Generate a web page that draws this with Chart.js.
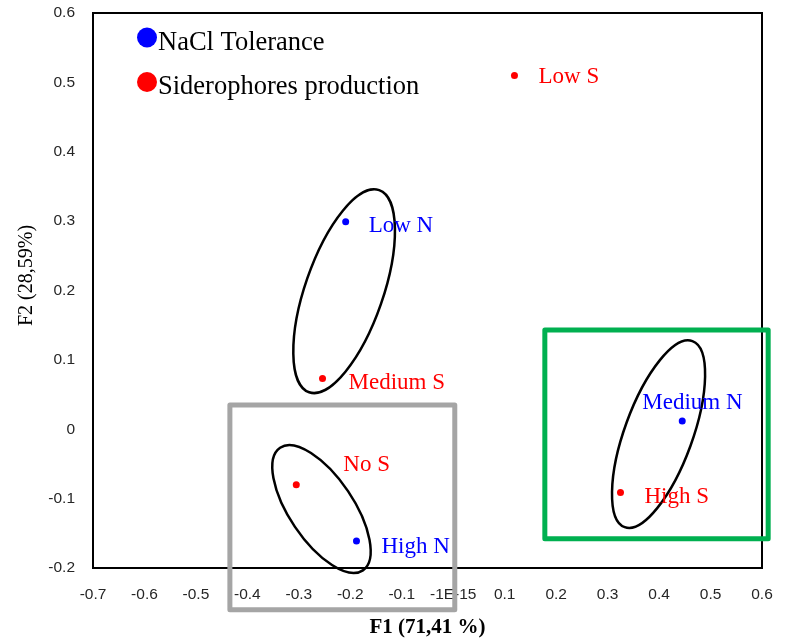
<!DOCTYPE html>
<html><head><meta charset="utf-8">
<script src="https://cdn.jsdelivr.net/npm/chart.js@4.4.1/dist/chart.umd.min.js"></script>
<style>html,body{margin:0;padding:0;background:#fff}</style>
</head><body>
<canvas id="c" width="788" height="639"></canvas>
<script>
// ---- data ----
const naclLabels = ['Low N', 'Medium N', 'High N'];
const naclF1 = [-0.209, 0.445, -0.188];
const naclF2 = [0.299, 0.012, -0.161];
const sideroLabels = ['Low S', 'Medium S', 'No S', 'High S'];
const sideroF1 = [0.119, -0.254, -0.305, 0.325];
const sideroF2 = [0.510, 0.073, -0.080, -0.091];
const xTickValues = [-0.7, -0.6, -0.5, -0.4, -0.3, -0.2, -0.1, 0, 0.1, 0.2, 0.3, 0.4, 0.5, 0.6];
const xTickLabels = ['-0.7', '-0.6', '-0.5', '-0.4', '-0.3', '-0.2', '-0.1', '-1E-15', '0.1', '0.2', '0.3', '0.4', '0.5', '0.6'];
const yTickValues = [-0.2, -0.1, 0, 0.1, 0.2, 0.3, 0.4, 0.5, 0.6];
const yTickLabels = ['-0.2', '-0.1', '0', '0.1', '0.2', '0.3', '0.4', '0.5', '0.6'];
const xTitle = 'F1 (71,41 %)';
const yTitle = 'F2 (28,59%)';

// ---- annotation styling (pixels / data anchors) ----
const labelOffsets = {
  'Low N': [23, 10], 'Medium N': [-40, -12], 'High N': [25, 12],
  'Low S': [24, 8], 'Medium S': [26, 10], 'No S': [47, -14], 'High S': [24, 11]
};
const groupEllipses = [
  { cx: -0.212, cy: 0.199, rx: 107, ry: 39, rot: -70.9 },
  { cx: -0.256, cy: -0.115, rx: 74, ry: 32, rot: 56 },
  { cx: 0.399, cy: -0.007, rx: 99, ry: 34, rot: -70 }
];
const groupBoxes = [
  { x0: -0.434, x1: 0.003, y0: 0.035, y1: -0.260, color: '#A5A5A5' },
  { x0: 0.178, x1: 0.612, y0: 0.143, y1: -0.158, color: '#00B050' }
];

const toPoints = (xs, ys) => xs.map((v, i) => ({ x: v, y: ys[i] }));

const overlay = {
  id: 'overlay',
  beforeDatasetsDraw(chart) {
    const { ctx, chartArea: a } = chart;
    ctx.save();
    ctx.strokeStyle = '#000';
    ctx.lineWidth = 2;
    ctx.strokeRect(a.left, a.top, a.right - a.left, a.bottom - a.top);
    ctx.restore();
  },
  afterDraw(chart) {
    const { ctx, chartArea: a, scales: { x, y } } = chart;
    ctx.save();
    // ellipses
    ctx.strokeStyle = '#000';
    ctx.lineWidth = 2.5;
    groupEllipses.forEach(e => {
      ctx.beginPath();
      ctx.ellipse(x.getPixelForValue(e.cx), y.getPixelForValue(e.cy), e.rx, e.ry, e.rot * Math.PI / 180, 0, Math.PI * 2);
      ctx.stroke();
    });
    // boxes
    ctx.lineWidth = 5;
    ctx.lineJoin = 'round';
    groupBoxes.forEach(b => {
      const px0 = x.getPixelForValue(b.x0), px1 = x.getPixelForValue(b.x1);
      const py0 = y.getPixelForValue(b.y0), py1 = y.getPixelForValue(b.y1);
      ctx.strokeStyle = b.color;
      ctx.strokeRect(px0, py0, px1 - px0, py1 - py0);
    });
    // point labels
    ctx.font = '23px "Liberation Serif", "Times New Roman", serif';
    ctx.textAlign = 'left';
    ctx.textBaseline = 'alphabetic';
    chart.data.datasets.forEach((ds, i) => {
      const meta = chart.getDatasetMeta(i);
      meta.data.forEach((pt, j) => {
        const lab = ds.pointLabels[j];
        const off = labelOffsets[lab] || [20, 8];
        ctx.fillStyle = ds.backgroundColor;
        ctx.fillText(lab, pt.x + off[0], pt.y + off[1]);
      });
    });
    // legend
    ctx.font = '26.5px "Liberation Serif", "Times New Roman", serif';
    chart.data.datasets.forEach((ds, i) => {
      const cy = a.top + 24.5 + i * 44.5;
      ctx.fillStyle = ds.backgroundColor;
      ctx.beginPath();
      ctx.arc(a.left + 54, cy, 10, 0, Math.PI * 2);
      ctx.fill();
      ctx.fillStyle = '#000';
      ctx.fillText(ds.label, a.left + 65, cy + 12.3);
    });
    // axis titles
    ctx.fillStyle = '#000';
    ctx.textAlign = 'center';
    ctx.font = 'bold 21px "Liberation Serif", "Times New Roman", serif';
    ctx.fillText(xTitle, (a.left + a.right) / 2, 633);
    ctx.translate(32, 275.5);
    ctx.rotate(-Math.PI / 2);
    ctx.font = '20px "Liberation Serif", "Times New Roman", serif';
    ctx.fillText(yTitle, 0, 0);
    ctx.restore();
  }
};

const tickFont = { family: '"Liberation Sans", Arial, sans-serif', size: 15.5 };
const zeroPad = s => { s.paddingTop = 0; s.paddingBottom = 0; s.paddingLeft = 0; s.paddingRight = 0; };

new Chart(document.getElementById('c'), {
  type: 'scatter',
  data: {
    datasets: [
      {
        label: 'NaCl Tolerance', data: toPoints(naclF1, naclF2), pointLabels: naclLabels,
        backgroundColor: '#0000FF', borderColor: '#0000FF', pointRadius: 3.5, pointHoverRadius: 3.5, borderWidth: 0
      },
      {
        label: 'Siderophores production', data: toPoints(sideroF1, sideroF2), pointLabels: sideroLabels,
        backgroundColor: '#FF0000', borderColor: '#FF0000', pointRadius: 3.5, pointHoverRadius: 3.5, borderWidth: 0
      }
    ]
  },
  options: {
    responsive: false,
    animation: false,
    events: [],
    layout: { padding: { left: 0, top: 13, right: 26, bottom: 0 } },
    plugins: { legend: { display: false }, tooltip: { enabled: false } },
    scales: {
      x: {
        type: 'linear', min: -0.7, max: 0.6,
        grid: { display: false, drawTicks: false }, border: { display: false },
        afterBuildTicks: s => { s.ticks = xTickValues.map(v => ({ value: v })); },
        ticks: {
          autoSkip: false, maxRotation: 0, minRotation: 0, padding: 17, color: '#262626', font: tickFont,
          callback: (v, i) => xTickLabels[i]
        },
        afterFit: s => { s.height = 71; zeroPad(s); }
      },
      y: {
        type: 'linear', min: -0.2, max: 0.6,
        grid: { display: false, drawTicks: false }, border: { display: false },
        afterBuildTicks: s => { s.ticks = yTickValues.map(v => ({ value: v })); },
        ticks: {
          autoSkip: false, padding: 18, color: '#262626', font: tickFont,
          callback: (v, i) => yTickLabels[i]
        },
        afterFit: s => { s.width = 93; zeroPad(s); }
      }
    }
  },
  plugins: [overlay]
});
</script>
</body></html>
